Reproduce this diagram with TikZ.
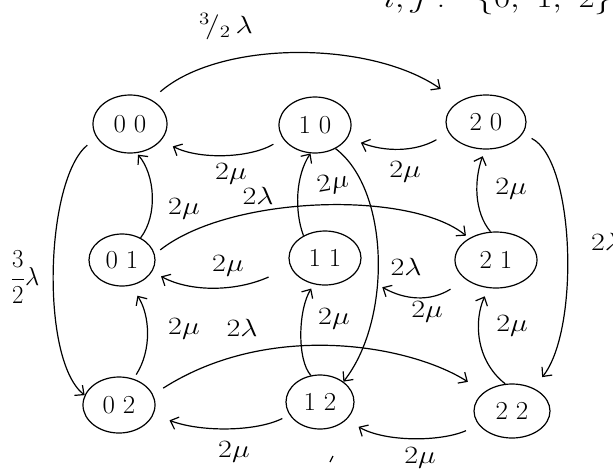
\documentclass[tikz,border=0pt]{standalone}
\usetikzlibrary{arrows.meta,shapes.geometric}
\newcommand{\mylab}[1]{\scalebox{1.45}[1.2]{$#1$}}
\newcommand{\mystate}[2]{\scalebox{1.3}[1.25]{#1\hspace{6pt}#2}}
\begin{document}
\begin{tikzpicture}[x=1pt,y=-1pt,
  st/.style={ellipse, draw, line width=1.2pt, inner sep=0pt, font=\huge},
  ed/.style={line width=1.2pt, -{Straight Barb[length=7pt,width=13pt]}},
  lbl/.style={font=\huge, inner sep=1pt}]
\useasboundingbox[fill=white] (0,0) rectangle (613,472);
% states
\node[st, minimum width=74pt, minimum height=58pt] (n00) at (130,124) {\mystate{0}{0}};
\node[st, minimum width=72pt, minimum height=56pt] (n10) at (315,125) {\mystate{1}{0}};
\node[st, minimum width=80pt, minimum height=54pt] (n20) at (486,122) {\mystate{2}{0}};
\node[st, minimum width=66pt, minimum height=52pt] (n01) at (122,260) {\mystate{0}{1}};
\node[st, minimum width=72pt, minimum height=54pt] (n11) at (325,258) {\mystate{1}{1}};
\node[st, minimum width=82pt, minimum height=56pt] (n21) at (496,260) {\mystate{2}{1}};
\node[st, minimum width=72pt, minimum height=56pt] (n02) at (119,405) {\mystate{0}{2}};
\node[st, minimum width=68pt, minimum height=54pt] (n12) at (320,402) {\mystate{1}{2}};
\node[st, minimum width=76pt, minimum height=54pt] (n22) at (512,411) {\mystate{2}{2}};
% connectors
\draw[ed, shorten <=12pt, shorten >=22pt] (n00.49) .. controls (220,40) and (370,40) .. (n20.143);
\draw[ed, shorten <=12pt] (n00.202) .. controls (45,180) and (40,360) .. (n02.164);
\draw[ed, shorten <=10pt, shorten >=14pt] (n20.-18) .. controls (575,160) and (580,330) .. (n22.47);
\draw[ed, shorten <=11pt, shorten >=13pt] (n10.203) .. controls (250,158) and (200,160) .. (n00.-28);
\draw[ed, shorten <=14pt, shorten >=14pt] (n20.196) .. controls (415,152) and (385,152) .. (n10.-21);
\draw[ed, shorten >=2pt] (n01.50) .. controls (158,215) and (155,175) .. (n00.283);
\draw[ed, shorten <=5pt, shorten >=12pt] (n02.61) .. controls (152,350) and (150,315) .. (n01.289);
\draw[ed, shorten <=7pt, shorten >=4pt] (n01.10) .. controls (230,195) and (410,190) .. (n21.141);
\draw[ed] (n11.134) .. controls (294,210) and (296,175) .. (n10.261);
\draw[ed] (n10.-49) .. controls (390,190) and (392,320) .. (n12.41);
\draw[ed, shorten >=7pt] (n21.101) .. controls (474,212) and (474,180) .. (n20.268);
\draw[ed, shorten <=24pt, shorten >=10pt] (n11.195) .. controls (235,292) and (190,292) .. (n01.-21);
\draw[ed, shorten <=18pt, shorten >=30pt] (n21.213) .. controls (430,302) and (405,300) .. (n11.-25);
\draw[ed, shorten >=5pt] (n12.109) .. controls (297,360) and (298,310) .. (n11.247);
\draw[ed, shorten >=9pt] (n22.104) .. controls (475,360) and (474,320) .. (n21.255);
\draw[ed, shorten <=12pt, shorten >=19pt] (n02.17) .. controls (270,320) and (410,345) .. (n22.146);
\draw[ed, shorten <=8pt, shorten >=17pt] (n12.203) .. controls (255,432) and (200,432) .. (n02.-15);
\draw[ed, shorten <=14pt, shorten >=14pt] (n22.203) .. controls (440,442) and (385,442) .. (n12.-34);
% labels
\node[lbl] (la) at (226,27) {\mylab{^{3}\!/_{2}\,\lambda}};
\node[lbl] (lb) at (25,277) {\scalebox{1.2}[1.25]{$\displaystyle\frac{3}{2}\lambda$}};
\node[lbl, anchor=west] (lc) at (590,242) {\mylab{2\lambda}};
\node[lbl] (ld) at (231,174) {\mylab{2\mu}};
\node[lbl] (le) at (405,172) {\mylab{2\mu}};
\node[lbl] (lf) at (184,209) {\mylab{2\mu}};
\node[lbl, rotate=10] (lg) at (333,184) {\mylab{2\mu}};
\node[lbl] (lh) at (511,189) {\mylab{2\mu}};
\node[lbl] (li) at (258,196) {\mylab{2\lambda}};
\node[lbl] (lj) at (406,267) {\mylab{2\lambda}};
\node[lbl] (lk) at (228,266) {\mylab{2\mu}};
\node[lbl] (ll) at (427,312) {\mylab{2\mu}};
\node[lbl] (lm) at (184,329) {\mylab{2\mu}};
\node[lbl] (ln) at (334,319) {\mylab{2\mu}};
\node[lbl] (lo) at (512,326) {\mylab{2\mu}};
\node[lbl] (lp) at (242,328) {\mylab{2\lambda}};
\node[lbl] (lq) at (234,452) {\mylab{2\mu}};
\node[lbl] (lr) at (420,458) {\mylab{2\mu}};
\node[anchor=base west, inner sep=0pt, font=\huge] (top) at (383,7) {\scalebox{1.7}[1.4]{$i,j:\ \ \{0,\ 1,\ 2\}$}};
\draw[line width=1.2pt] (330,462) -- (333,456);
\end{tikzpicture}
\end{document}
